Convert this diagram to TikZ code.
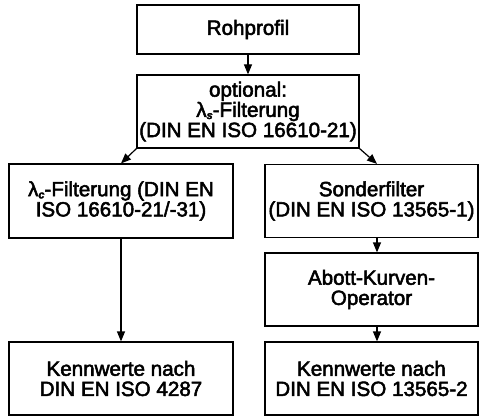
\documentclass[tikz,border=0pt]{standalone}
\usepackage{fontspec}
\setmainfont{Liberation Sans}
\newfontfamily\boxfont{Liberation Sans}[FakeBold=2.5]
\usetikzlibrary{arrows.meta}
\tikzset{
  box/.style={draw, line width=1.2pt, align=center, inner sep=0pt,
    font=\boxfont\fontsize{20.6}{20.2}\selectfont},
  arr/.style={-{Triangle[length=10pt,width=8pt]}, line width=1.2pt},
}
\newcommand{\lamsub}[1]{λ\raisebox{-0.2ex}{\fontsize{11}{11}\selectfont\bfseries\itshape #1}}
\begin{document}
\begin{tikzpicture}[x=1pt,y=1pt]
\useasboundingbox (0,0) rectangle (480,416);
\node[box, minimum width=222pt, minimum height=49pt] (R) at (248,386.5) {Rohprofil};
\node[box, minimum width=222pt, minimum height=73pt] (O) at (248,304.5) {optional:\\\lamsub{s}-Filterung\\(DIN EN ISO 16610-21)};
\node[box, minimum width=224pt, minimum height=74pt] (L1) at (121,215) {\lamsub{c}-Filterung (DIN EN\\ISO 16610-21/-31)};
\node[box, minimum width=224pt, minimum height=73pt] (L2) at (121,37.5) {Kennwerte nach\\DIN EN ISO 4287};
\node[box, minimum width=213pt, minimum height=73pt] (S) at (371.5,215) {Sonderfilter\\(DIN EN ISO 13565-1)};
\node[box, minimum width=213pt, minimum height=73pt] (A) at (371.5,126.5) {Abott-Kurven-\\Operator};
\node[box, minimum width=213pt, minimum height=73pt] (K) at (371.5,37.5) {Kennwerte nach\\DIN EN ISO 13565-2};
\coordinate (lc) at (121,0);
\coordinate (rc) at (377,0);
\draw[arr] (R.south) -- (O.north);
\draw[arr] (O.south west) -- (L1.north -| lc);
\draw[arr] (O.south east) -- (S.north -| rc);
\draw[arr] (L1.south) -- (L2.north);
\draw[arr] (S.south -| rc) -- (A.north -| rc);
\draw[arr] (A.south -| rc) -- (K.north -| rc);
\end{tikzpicture}
\end{document}
